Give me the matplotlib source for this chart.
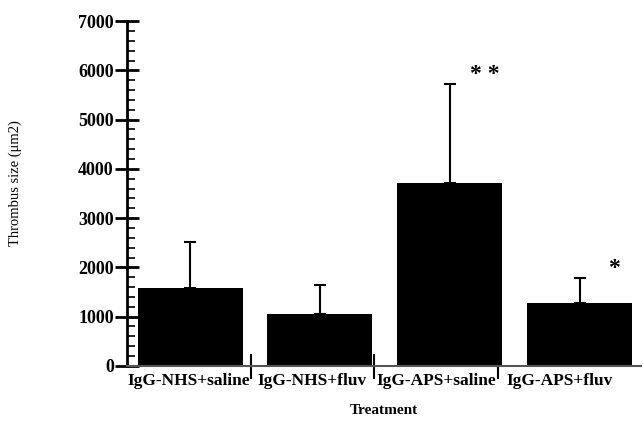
import numpy as np
import matplotlib.pyplot as plt
from matplotlib.ticker import MultipleLocator

# data
groups = ['IgG-NHS+saline', 'IgG-NHS+fluv', 'IgG-APS+saline', 'IgG-APS+fluv']
means = [1580, 1060, 3720, 1280]
errs = [940, 580, 2000, 500]
marks = ['', '', '* *', '*']

plt.rcParams['font.family'] = ['Liberation Serif', 'DejaVu Serif']

fig = plt.figure(figsize=(6.43, 4.22), dpi=100)
ax = fig.add_axes([0.1975, 0.133, 0.80, 0.817])

x = np.arange(len(groups))
xb = x * 1.05 + 0.01  # bars sit a bit right of the category centres
ax.bar(xb, means, width=0.85, color='black', zorder=2)
ax.errorbar(xb, means, yerr=[np.zeros(len(errs)), errs], fmt='none',
            ecolor='black', elinewidth=1.5, capsize=4, capthick=1.5, zorder=3)

for xi, m, e, s in zip(xb, means, errs, marks):
    if s:
        ax.text(xi + 0.28, m + e + 200, s, ha='center', va='center',
                fontsize=17, fontweight='bold')

ax.set_xlim(-0.5, 3.66)
ax.set_ylim(0, 7000)

ax.spines['top'].set_visible(False)
ax.spines['right'].set_visible(False)
ax.spines['left'].set_linewidth(2)
ax.spines['bottom'].set_linewidth(1.5)
ax.spines['bottom'].set_color('#555555')

ax.yaxis.set_major_locator(MultipleLocator(1000))
ax.yaxis.set_minor_locator(MultipleLocator(200))
ax.tick_params(axis='y', which='major', direction='inout', length=17, width=2,
               labelsize=13, pad=1)
ax.tick_params(axis='y', which='minor', direction='in', length=6, width=1.2)
for lbl in ax.get_yticklabels():
    lbl.set_fontweight('bold')

# boundary ticks on x, labels at centres
ax.set_xticks(x)
ax.set_xticklabels(groups, fontsize=12.5, fontweight='bold')
ax.tick_params(axis='x', which='major', length=0, pad=5)
ax.set_xticks(x[:-1] + 0.5, minor=True)
ax.tick_params(axis='x', which='minor', direction='inout', length=18, width=1.5)

ax.set_ylabel('Thrombus size (\u03bcm2)', fontsize=10.5)
ax.yaxis.set_label_coords(-0.205, 0.53)
ax.set_xlabel('Treatment', fontsize=11, fontweight='bold')
ax.xaxis.set_label_coords(0.5, -0.11)

fig.savefig('out.png', dpi=100)
